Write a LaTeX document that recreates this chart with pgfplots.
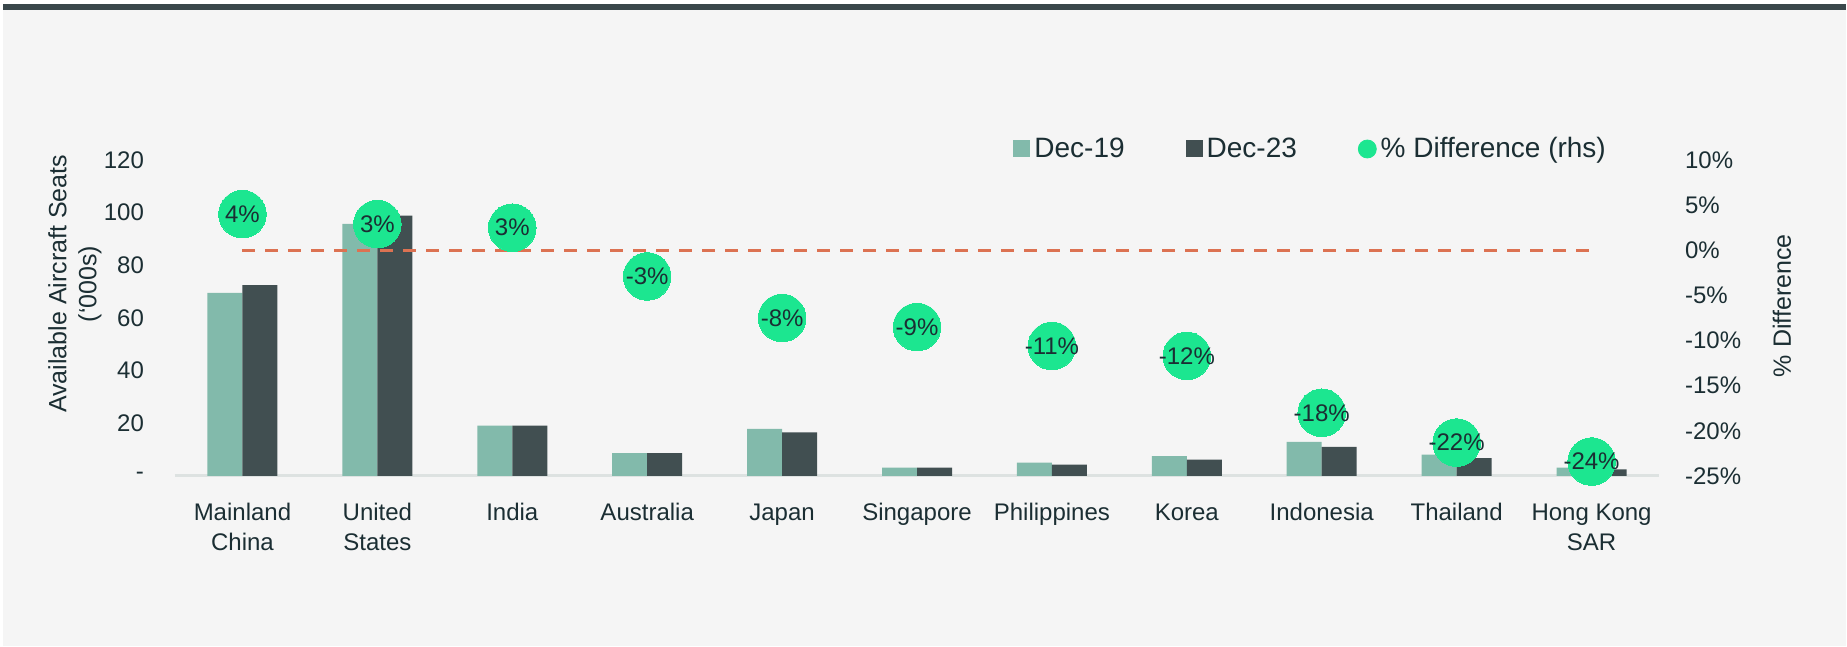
\documentclass[border=0pt]{standalone}
\usepackage{fontspec}
\setmainfont{Liberation Sans}
\usepackage{pgfplots}
\pgfplotsset{compat=1.18}

\definecolor{c19}{HTML}{82BAAB}
\definecolor{c23}{HTML}{414F51}
\definecolor{cdot}{HTML}{1CE690}
\definecolor{cdash}{HTML}{DC7252}
\definecolor{ctext}{HTML}{1B2E33}
\definecolor{caxis}{HTML}{DDE2E1}
\definecolor{bg}{HTML}{F5F5F5}
\definecolor{topbar}{HTML}{3A474B}

\pgfplotsset{
  common/.style={
    at={(87.5pt,85.5pt)}, anchor=south west,
    scale only axis, width=742pt, height=158pt,
    xmin=-0.5, xmax=10.5,
    tick style={draw=none},
    tick label style={text=ctext, font=\fontsize{12}{15}\selectfont},
    label style={text=ctext, font=\fontsize{12.5}{15}\selectfont},
    /pgf/number format/assume math mode=true,
  },
}

\begin{document}
\begin{tikzpicture}
\fill[white] (0,0) rectangle (923.5pt,323.5pt);
\fill[bg] (1.5pt,0.5pt) rectangle (923pt,321.5pt);
\fill[topbar] (1.5pt,318.5pt) rectangle (923pt,321.5pt);

% bars, left axis
\begin{axis}[
  common,
  ymin=0, ymax=120,
  ybar=0pt, bar width=17.5pt,
  axis x line*=bottom, axis y line*=left,
  x axis line style={draw=caxis, line width=1.5pt},
  y axis line style={draw=none},
  xtick={0,...,10},
  xticklabels={{Mainland\\China},{United\\States},India,Australia,Japan,Singapore,Philippines,Korea,Indonesia,Thailand,{Hong Kong\\SAR}},
  xticklabel style={align=center, yshift=-6pt},
  ytick={0,20,40,60,80,100,120},
  yticklabels={{-\hspace{6.5pt}},20,40,60,80,100,120},
  yticklabel style={xshift=-12pt},
  ylabel={Available Aircraft Seats\\(‘000s)},
  ylabel style={at={(rel axis cs:-0.0674,0.608)}, anchor=center, align=center},
  legend columns=-1,
  legend style={at={(rel axis cs:0.5647,1.0348)}, anchor=west, draw=none, fill=none,
    inner sep=0pt, text=ctext, font=\fontsize{14}{16}\selectfont,
    /tikz/every even column/.append style={column sep=28.5pt}},
]
\addplot[fill=c19, draw=none,
  legend image code/.code={\fill[c19] (0pt,-4.25pt) rectangle (8.5pt,4.25pt);}]
  coordinates {(0,69.5) (1,95.7) (2,19.1) (3,8.7) (4,17.9) (5,3.2) (6,5.1) (7,7.5) (8,13.0) (9,8.1) (10,3.2)};
\addlegendentry{Dec-19}
\addplot[fill=c23, draw=none,
  legend image code/.code={\fill[c23] (0pt,-4.25pt) rectangle (8.5pt,4.25pt);}]
  coordinates {(0,72.5) (1,98.9) (2,19.1) (3,8.7) (4,16.6) (5,3.2) (6,4.3) (7,6.2) (8,11.1) (9,6.8) (10,2.5)};
\addlegendentry{Dec-23\hspace{-7pt}}
\addlegendimage{legend image code/.code={\fill[cdot] (4.5pt,0pt) circle (4.5pt);}}
\addlegendentry{\% Difference (rhs)}
\end{axis}

% percentage difference, right axis
\begin{axis}[
  common,
  ymin=-25, ymax=10,
  clip=false,
  axis x line=none, axis y line*=right,
  y axis line style={draw=none},
  ytick={-25,-20,...,10},
  yticklabel={\pgfmathprintnumber{\tick}\%},
  yticklabel style={xshift=9.5pt},
  ylabel={\% Difference},
  ylabel style={at={(rel axis cs:1.0829,0.539)}, anchor=center},
]
\addplot[cdash, line width=1.5pt, dash pattern=on 6.5pt off 5pt]
  coordinates {(0,0) (10,0)};
\addplot[cdot, only marks, mark=*, mark size=11.9pt,
  mark options={fill=cdot, draw=cdot, line width=0pt},
  nodes near coords, point meta=explicit symbolic,
  every node near coord/.append style={anchor=center, text=ctext, font=\fontsize{12}{14}\selectfont}]
  coordinates {(0,4.0)[4\%] (1,2.9)[3\%] (2,2.5)[3\%] (3,-2.9)[-3\%] (4,-7.5)[-8\%]
    (5,-8.5)[-9\%] (6,-10.6)[-11\%] (7,-11.7)[-12\%] (8,-18.0)[-18\%] (9,-21.3)[-22\%] (10,-23.4)[-24\%]};
\end{axis}
\end{tikzpicture}
\end{document}
